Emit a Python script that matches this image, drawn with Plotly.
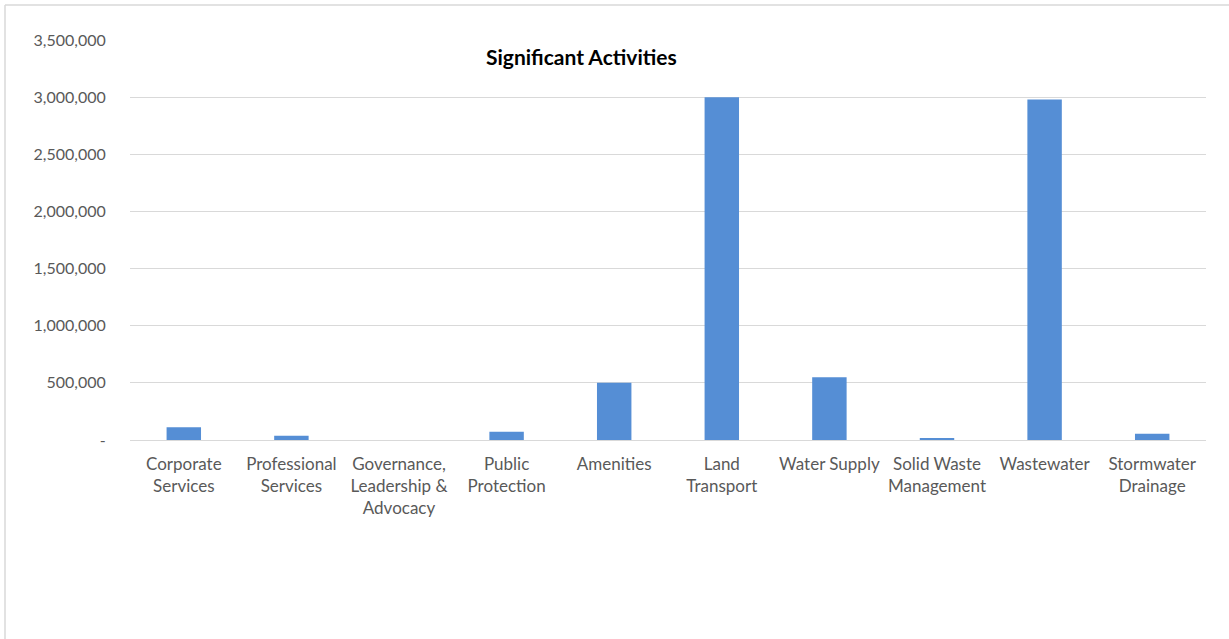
import plotly.graph_objects as go

# Significant activities – spend by activity group
categories = [
    "Corporate<br>Services",
    "Professional<br>Services",
    "Governance,<br>Leadership &<br>Advocacy",
    "Public<br>Protection",
    "Amenities",
    "Land<br>Transport",
    "Water Supply",
    "Solid Waste<br>Management",
    "Wastewater",
    "Stormwater<br>Drainage",
]
values = [111000, 37000, 0, 72000, 500000, 3000000, 550000, 17000, 2980000, 55000]

tick_vals = [0, 500000, 1000000, 1500000, 2000000, 2500000, 3000000, 3500000]
tick_text = ["-", "500,000", "1,000,000", "1,500,000", "2,000,000",
             "2,500,000", "3,000,000", "3,500,000"]

W, H = 1229, 639
M_L, M_R, M_T, M_B = 130, 23, 40, 199
plot_w = W - M_L - M_R
plot_h = H - M_T - M_B


def px_x(p):
    return (p - M_L) / plot_w


def px_y(p):
    return (H - M_B - p) / plot_h


font_family = "Lato, 'Open Sans', sans-serif"
grey = "#595959"

fig = go.Figure(
    go.Bar(
        x=categories,
        y=values,
        marker=dict(color="#558ED5", line=dict(width=0)),
        width=0.32,
    )
)

fig.update_layout(
    width=W,
    height=H,
    margin=dict(l=M_L, r=M_R, t=M_T, b=M_B),
    paper_bgcolor="white",
    plot_bgcolor="white",
    showlegend=False,
    font=dict(family=font_family, size=17, color=grey),
    xaxis=dict(
        showgrid=False,
        showline=False,
        zeroline=False,
        ticks="",
        tickangle=0,
        ticklabelstandoff=12,
        tickfont=dict(size=17, color=grey),
    ),
    yaxis=dict(
        range=[0, 3500000],
        tickvals=tick_vals,
        ticktext=tick_text,
        showgrid=True,
        gridcolor="#D9D9D9",
        gridwidth=1,
        zeroline=True,
        zerolinecolor="#D9D9D9",
        zerolinewidth=1,
        showline=False,
        ticks="outside",
        ticklen=20,
        tickcolor="rgba(0,0,0,0)",
        tickfont=dict(size=16, color=grey),
    ),
    annotations=[
        dict(
            text="<b>Significant Activities</b>",
            x=px_x(581),
            y=px_y(57),
            xref="paper",
            yref="paper",
            xanchor="center",
            yanchor="middle",
            showarrow=False,
            font=dict(family=font_family, size=21, color="black"),
        )
    ],
    shapes=[
        # chart area frame: top and left edges
        dict(type="line", xref="paper", yref="paper",
             x0=px_x(5), x1=px_x(1235), y0=px_y(5), y1=px_y(5),
             line=dict(color="#D9D9D9", width=1.5)),
        dict(type="line", xref="paper", yref="paper",
             x0=px_x(5), x1=px_x(5), y0=px_y(5), y1=px_y(650),
             line=dict(color="#D9D9D9", width=1.5)),
    ],
)

fig.write_html("out.html")
